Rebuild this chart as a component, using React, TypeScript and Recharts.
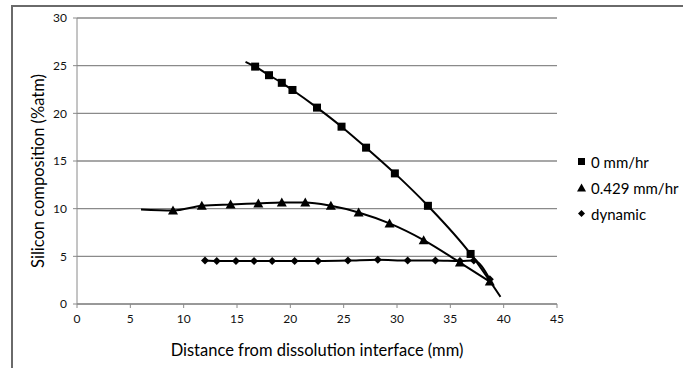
import { ComposedChart, Line, XAxis, YAxis, CartesianGrid } from "recharts";

// 0 mm/hr (squares)
const sqX = [16.7, 18.0, 19.2, 20.2, 22.5, 24.8, 27.1, 29.8, 32.9, 36.9];
const sqY = [24.9, 24.0, 23.2, 22.45, 20.6, 18.6, 16.4, 13.7, 10.3, 5.25];
const sqTrendStart = [15.8, 25.4];
const sqTrendEnd = [39.7, 0.75];

// 0.429 mm/hr (triangles)
const triX = [9.0, 11.7, 14.4, 17.0, 19.2, 21.4, 23.8, 26.4, 29.3, 32.5, 35.9, 38.7];
const triY = [9.8, 10.3, 10.45, 10.55, 10.65, 10.65, 10.3, 9.6, 8.45, 6.7, 4.35, 2.35];
const triTrendStart = [6.0, 9.9];

// dynamic (diamonds)
const dynX = [12.0, 13.1, 14.9, 16.6, 18.3, 20.4, 22.6, 25.4, 28.2, 31.0, 33.6, 35.9, 37.2, 38.7];
const dynY = [4.55, 4.5, 4.5, 4.5, 4.5, 4.5, 4.5, 4.55, 4.65, 4.55, 4.55, 4.5, 4.55, 2.6];

const xTicks = [0, 5, 10, 15, 20, 25, 30, 35, 40, 45];
const yTicks = [0, 5, 10, 15, 20, 25, 30];

const seriesNames = ["0 mm/hr", "0.429 mm/hr", "dynamic"];

type Pt = { x: number; y: number; m: boolean };

function build(xs: number[], ys: number[], start?: number[], end?: number[]): Pt[] {
  const pts: Pt[] = xs.map((x, i) => ({ x, y: ys[i], m: true }));
  if (start) pts.unshift({ x: start[0], y: start[1], m: false });
  if (end) pts.push({ x: end[0], y: end[1], m: false });
  return pts;
}

const sqData = build(sqX, sqY, sqTrendStart, sqTrendEnd);
const triData = build(triX, triY, triTrendStart);
const dynData = build(dynX, dynY);

const FONT = "Lato, 'Open Sans', sans-serif";

function Marker({ kind, cx, cy }: { kind: string; cx: number; cy: number }) {
  if (kind === "square") {
    return <rect x={cx - 4} y={cy - 4} width={8} height={8} fill="#000" />;
  }
  if (kind === "triangle") {
    return <path d={`M${cx},${cy - 5} L${cx + 5},${cy + 4} L${cx - 5},${cy + 4} Z`} fill="#000" />;
  }
  return <path d={`M${cx},${cy - 4} L${cx + 4},${cy} L${cx},${cy + 4} L${cx - 4},${cy} Z`} fill="#000" />;
}

function dotFor(kind: string) {
  return (props: any) => {
    const { cx, cy, payload, index } = props;
    if (!payload || !payload.m) return <g key={`${kind}-${index}`} />;
    return (
      <g key={`${kind}-${index}`}>
        <Marker kind={kind} cx={cx} cy={cy} />
      </g>
    );
  };
}

function YLabel(props: any) {
  const vb = props.viewBox || { x: 0, y: 0, width: 0, height: 0 };
  const x = vb.x + 38;
  const y = vb.y + vb.height / 2 + 10;
  return (
    <text
      x={x}
      y={y}
      transform={`rotate(-90, ${x}, ${y})`}
      textAnchor="middle"
      dominantBaseline="central"
      fill="#000"
      fontSize={16.5}
      fontFamily={FONT}
    >
      Silicon composition (%atm)
    </text>
  );
}

function LegendBox() {
  const kinds = ["square", "triangle", "diamond"];
  return (
    <div style={{ fontFamily: FONT, fontSize: 15, color: "#000", lineHeight: "26px" }}>
      {seriesNames.map((name, i) => (
        <div key={name} style={{ display: "flex", alignItems: "center", height: 26 }}>
          <svg width={12} height={12} style={{ marginRight: 3 }}>
            {kinds[i] === "square" && <rect x={2} y={2} width={7} height={7} fill="#000" />}
            {kinds[i] === "triangle" && <path d="M5.5,1.5 L10,9.5 L1,9.5 Z" fill="#000" />}
            {kinds[i] === "diamond" && <path d="M5.5,2 L9,5.5 L5.5,9 L2,5.5 Z" fill="#000" />}
          </svg>
          <span>{name}</span>
        </div>
      ))}
    </div>
  );
}

export default function App() {
  return (
    <div style={{ position: "fixed", left: 0, top: 0, width: 683, height: 368, background: "#fff", overflow: "hidden" }}>
      <div
        style={{
          position: "absolute",
          left: 11,
          top: 5,
          width: 720,
          height: 420,
          borderLeft: "2px solid #6a6a6a",
          borderTop: "2px solid #6a6a6a",
        }}
      />
      <div style={{ position: "absolute", left: 0, top: 0 }}>
        <ComposedChart width={683} height={368} margin={{ top: 18, right: 126, left: 0, bottom: 12 }}>
          <CartesianGrid vertical={false} stroke="#8a8a8a" strokeWidth={1.3} />
          <XAxis
            type="number"
            dataKey="x"
            domain={[0, 45]}
            ticks={xTicks}
            allowDataOverflow
            height={52}
            tickSize={4}
            tickMargin={6}
            stroke="#8a8a8a"
            tick={{ fill: "#111", fontSize: 12, fontFamily: FONT }}
            label={{
              value: "Distance from dissolution interface (mm)",
              position: "insideBottom",
              offset: 0,
              style: { fill: "#000", fontSize: 16.5, fontFamily: FONT },
            }}
          />
          <YAxis
            type="number"
            dataKey="y"
            domain={[0, 30]}
            ticks={yTicks}
            width={77}
            tickSize={4}
            tickMargin={6}
            stroke="#8a8a8a"
            tick={{ fill: "#111", fontSize: 12, fontFamily: FONT }}
            label={<YLabel />}
          />
          <Line
            data={sqData}
            dataKey="y"
            name={seriesNames[0]}
            type="monotone"
            stroke="#000"
            strokeWidth={2}
            dot={dotFor("square")}
            activeDot={false}
            isAnimationActive={false}
          />
          <Line
            data={triData}
            dataKey="y"
            name={seriesNames[1]}
            type="monotone"
            stroke="#000"
            strokeWidth={2}
            dot={dotFor("triangle")}
            activeDot={false}
            isAnimationActive={false}
          />
          <Line
            data={dynData}
            dataKey="y"
            name={seriesNames[2]}
            type="monotone"
            stroke="#000"
            strokeWidth={2}
            dot={dotFor("diamond")}
            activeDot={false}
            isAnimationActive={false}
          />
        </ComposedChart>
      </div>
      <div style={{ position: "absolute", left: 576, top: 149 }}>
        <LegendBox />
      </div>
    </div>
  );
}
